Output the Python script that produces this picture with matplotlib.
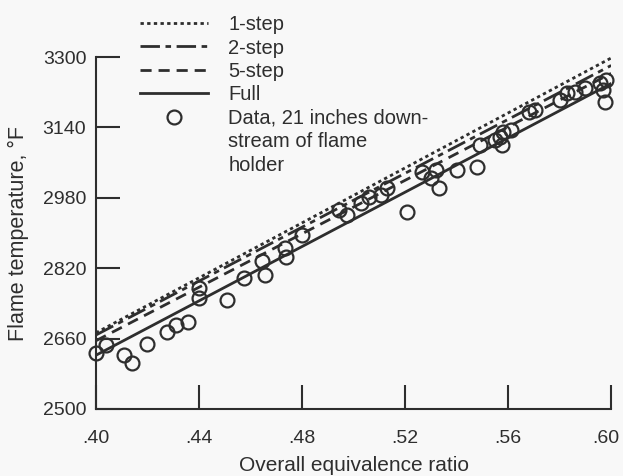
import matplotlib
matplotlib.use("Agg")
import matplotlib.pyplot as plt
import matplotlib.transforms as mtransforms
from matplotlib.lines import Line2D

plt.rcParams.update({"font.family": ["Liberation Sans", "DejaVu Sans"],
                     "font.size": 14})

# model curves (end points)
phi_line = [0.40, 0.60]
t_1step = [2673, 3298]
t_2step = [2668, 3281]
t_5step = [2655, 3263]
t_full = [2622, 3240]

# measured points, 21 in downstream of flame holder
phi_data = [0.400, 0.404, 0.411, 0.414, 0.420, 0.4275, 0.431, 0.4356,
            0.440, 0.440, 0.451, 0.4576, 0.4646, 0.4658, 0.4734, 0.4738,
            0.480, 0.4944, 0.4975, 0.503, 0.506, 0.5106, 0.513, 0.5207,
            0.5265, 0.530, 0.532, 0.533, 0.540, 0.5478, 0.549, 0.555,
            0.557, 0.5575, 0.558, 0.561, 0.568, 0.5706, 0.580, 0.583,
            0.586, 0.590, 0.5957, 0.597, 0.5977, 0.598]
t_data = [2627, 2645, 2623, 2605, 2648, 2675, 2691, 2698,
          2775, 2752, 2748, 2798, 2836, 2805, 2866, 2845,
          2895, 2952, 2941, 2968, 2982, 2986, 3002, 2948,
          3039, 3025, 3043, 3002, 3043, 3050, 3100, 3111,
          3118, 3100, 3130, 3134, 3175, 3180, 3202, 3218,
          3220, 3229, 3241, 3225, 3198, 3248]

xticks = [0.40, 0.44, 0.48, 0.52, 0.56, 0.60]
xticklabels = [".40", ".44", ".48", ".52", ".56", ".60"]
yticks = [2500, 2660, 2820, 2980, 3140, 3300]

BG = "#f8f8f8"
INK = "#2e2e2e"

fig = plt.figure(figsize=(6.23, 4.76), dpi=100, facecolor=BG)
ax = fig.add_axes([0.154, 0.141, 0.827, 0.739], facecolor=BG)

ax.plot(phi_line, t_1step, color=INK, lw=2.0, ls=(0, (1.2, 1.2)),
        label="1-step")
ax.plot(phi_line, t_2step, color=INK, lw=2.0, ls=(0, (7, 2, 2, 2)),
        label="2-step")
ax.plot(phi_line, t_5step, color=INK, lw=2.0, ls=(0, (4, 2.5)),
        label="5-step")
ax.plot(phi_line, t_full, color=INK, lw=2.0, ls="-", label="Full")
ax.plot(phi_data, t_data, "o", ms=10, mfc="none", mec=INK, mew=1.6,
        label="Data, 21 inches down-", clip_on=False)

ax.set_xlim(0.40, 0.60)
ax.set_ylim(2500, 3300)
ax.set_xticks(xticks)
ax.set_xticklabels(xticklabels)
ax.set_yticks(yticks)
for s in ("top", "right"):
    ax.spines[s].set_visible(False)
for s in ("left", "bottom"):
    ax.spines[s].set_color(INK)
    ax.spines[s].set_linewidth(1.5)
ax.tick_params(direction="in", length=17, width=1.5, color=INK,
               labelcolor=INK, pad=7)
ax.tick_params(axis="x", pad=15)
# last x label sits a little left of its tick, as in the original
lab = ax.get_xticklabels()[-1]
lab.set_transform(lab.get_transform() +
                  mtransforms.ScaledTranslation(-5 / 100, 0,
                                                fig.dpi_scale_trans))
ax.set_xlabel("Overall equivalence ratio", color=INK, fontsize=15,
              labelpad=7)
ax.set_ylabel("Flame temperature, \u00b0F", color=INK, fontsize=15.5,
              labelpad=10)

handles, labels = ax.get_legend_handles_labels()
blank = Line2D([], [], ls="none")
handles += [blank, blank]
labels += ["stream of flame", "holder"]
ax.legend(handles, labels, loc="upper left", fontsize=14.5,
          bbox_to_anchor=(0.2, 1.0), bbox_transform=fig.transFigure,
          frameon=False, handlelength=3.4, handletextpad=1.0,
          labelspacing=0.22, borderpad=0.25, labelcolor=INK)

fig.savefig("out.png", dpi=100, facecolor=BG)
